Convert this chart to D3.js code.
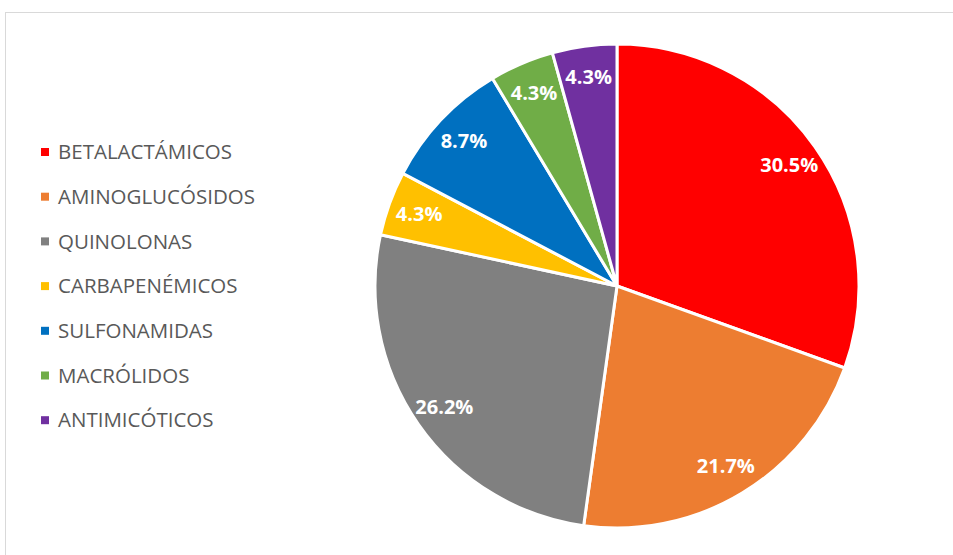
<!DOCTYPE html>
<html>
<head>
<meta charset="utf-8">
<script src="https://cdn.jsdelivr.net/npm/d3@7"></script>
<style>
  body { margin: 0; background: #fff; }
  svg { display: block; }
</style>
</head>
<body>
<svg id="chart"></svg>
<script>
const categories = ["BETALACTÁMICOS", "AMINOGLUCÓSIDOS", "QUINOLONAS", "CARBAPENÉMICOS", "SULFONAMIDAS", "MACRÓLIDOS", "ANTIMICÓTICOS"];
const values = [30.5, 21.7, 26.2, 4.3, 8.7, 4.3, 4.3];
const colors = ["#ff0000", "#ed7d31", "#808080", "#ffc000", "#0070c0", "#70ad47", "#7030a0"];

const width = 953, height = 555;
const cx = 617, cy = 286, radius = 242;

const svg = d3.select("#chart").attr("width", width).attr("height", height);

// chart border
svg.append("rect")
   .attr("x", 5.5).attr("y", 12.5)
   .attr("width", 960).attr("height", 560)
   .attr("fill", "none")
   .attr("stroke", "#d9d9d9")
   .attr("stroke-width", 1);

const pie = d3.pie().sort(null).value(d => d);
const arcs = pie(values);
const arc = d3.arc().innerRadius(0).outerRadius(radius);
const labelArc = d3.arc().innerRadius(radius * 0.87).outerRadius(radius * 0.87);

const g = svg.append("g").attr("transform", `translate(${cx},${cy})`);

g.selectAll("path")
 .data(arcs)
 .enter()
 .append("path")
 .attr("d", arc)
 .attr("fill", (d, i) => colors[i])
 .attr("stroke", "#fff")
 .attr("stroke-width", 3)
 .attr("stroke-linejoin", "round");

g.selectAll("text")
 .data(arcs)
 .enter()
 .append("text")
 .attr("transform", d => `translate(${labelArc.centroid(d)})`)
 .attr("text-anchor", "middle")
 .attr("dy", "0.35em")
 .attr("fill", "#fff")
 .style("font-family", "'Open Sans', sans-serif")
 .style("font-weight", "bold")
 .style("font-size", "20px")
 .text(d => d.data.toFixed(1) + "%");

// legend
const legend = svg.append("g");
const item = legend.selectAll("g")
  .data(categories)
  .enter()
  .append("g")
  .attr("transform", (d, i) => `translate(41, ${152 + i * 44.7})`);

item.append("rect")
    .attr("x", 0).attr("y", -4)
    .attr("width", 8).attr("height", 8)
    .attr("fill", (d, i) => colors[i]);

item.append("text")
    .attr("x", 17)
    .attr("dy", "0.35em")
    .attr("fill", "#595959")
    .style("font-family", "'Open Sans', sans-serif")
    .style("font-size", "20.5px")
    .text(d => d);
</script>
</body>
</html>
